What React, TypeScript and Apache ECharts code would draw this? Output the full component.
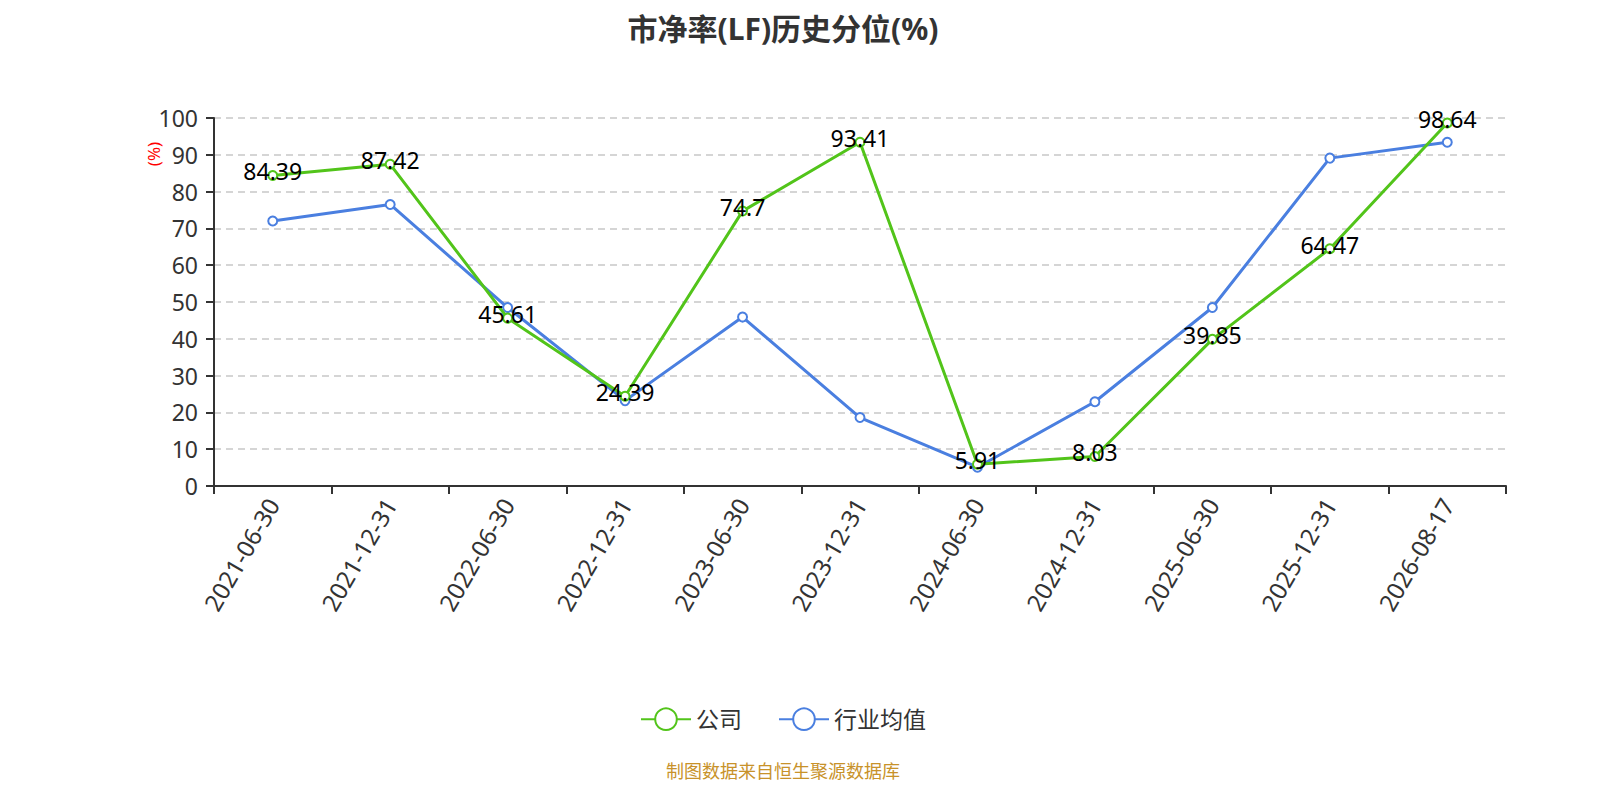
import React, { useEffect, useRef } from "react";
import * as echarts from "echarts";

const categories = [
  "2021-06-30", "2021-12-31", "2022-06-30", "2022-12-31", "2023-06-30", "2023-12-31",
  "2024-06-30", "2024-12-31", "2025-06-30", "2025-12-31", "2026-08-17",
];
const companyValues = [84.39, 87.42, 45.61, 24.39, 74.7, 93.41, 5.91, 8.03, 39.85, 64.47, 98.64];
const industryValues = [72.0, 76.5, 48.5, 23.2, 45.9, 18.6, 5.1, 22.9, 48.5, 89.1, 93.4];
const seriesNames = ["公司", "行业均值"];
const titleText = "市净率(LF)历史分位(%)";
const footerText = "制图数据来自恒生聚源数据库";
const yUnit = "(%)";

const FONT = "'Noto Sans', 'Noto Sans CJK SC', sans-serif";

export default function App() {
  const ref = useRef<HTMLDivElement>(null);
  useEffect(() => {
    if (!ref.current) return;
    const chart = echarts.init(ref.current, null, { renderer: "svg" });
    chart.setOption({
      animation: false,
      textStyle: { fontFamily: FONT },
      title: {
        text: titleText,
        left: "center",
        top: 4,
        padding: 0,
        textStyle: { fontSize: 30, fontWeight: "bold", color: "#333", fontFamily: FONT, lineHeight: 32 },
      },
      legend: {
        bottom: 56,
        left: "center",
        itemWidth: 50,
        itemHeight: 27,
        itemGap: 36,
        textStyle: { fontSize: 23, color: "#333" },
        data: seriesNames,
      },
      graphic: [
        {
          type: "text",
          left: "center",
          bottom: 12,
          style: { text: footerText, fill: "#c8922a", fontSize: 18, fontFamily: FONT },
        },
        {
          type: "text",
          x: 145,
          y: 146,
          rotation: Math.PI / 2,
          style: { text: yUnit, fill: "#ff0000", fontSize: 17, align: "center", verticalAlign: "middle", fontFamily: FONT },
        },
      ],
      grid: { left: 206, right: 52, top: 110, bottom: 306, containLabel: false },
      xAxis: {
        type: "category",
        data: categories,
        boundaryGap: true,
        axisLine: { lineStyle: { color: "#333", width: 2 } },
        axisTick: { show: true, length: 8, lineStyle: { color: "#333", width: 2 } },
        axisLabel: { rotate: 60, fontSize: 24, color: "#333", margin: 14, interval: 0 },
      },
      yAxis: {
        type: "value",
        min: 0,
        max: 100,
        interval: 10,
        axisLine: { show: true, lineStyle: { color: "#333", width: 2 } },
        axisTick: { show: true, length: 8, lineStyle: { color: "#333", width: 2 } },
        axisLabel: { fontSize: 23, color: "#333", margin: 16 },
        splitLine: { lineStyle: { type: [7, 5], color: "#c8c8c8", width: 1.5 } },
      },
      series: [
        {
          name: seriesNames[0],
          type: "line",
          data: companyValues,
          symbol: "emptyCircle",
          symbolSize: 9,
          itemStyle: { color: "#52c41a" },
          lineStyle: { width: 3, color: "#52c41a" },
          label: { show: true, position: "inside", fontSize: 23, color: "#000", offset: [0, -4] },
          z: 3,
        },
        {
          name: seriesNames[1],
          type: "line",
          data: industryValues,
          symbol: "emptyCircle",
          symbolSize: 9,
          itemStyle: { color: "#4a7fe0" },
          lineStyle: { width: 3, color: "#4a7fe0" },
          z: 2,
        },
      ],
    });
    return () => chart.dispose();
  }, []);
  return <div ref={ref} style={{ width: 1550, height: 784 }} />;
}
